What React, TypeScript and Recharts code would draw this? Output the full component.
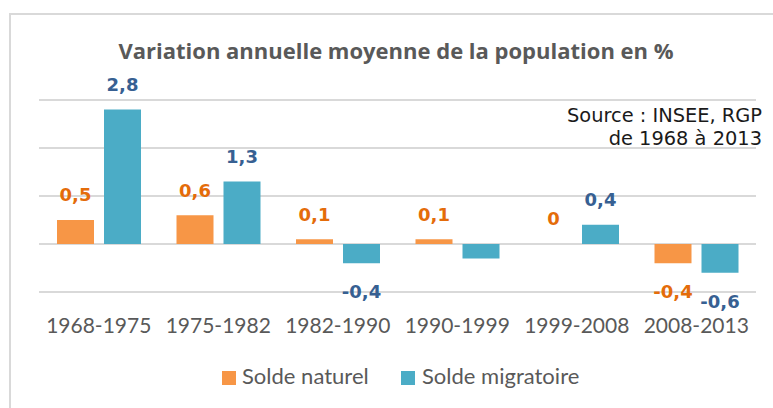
import React from "react";
import { BarChart, Bar, XAxis, YAxis, CartesianGrid, Legend, LabelList } from "recharts";

const categories = ["1968-1975", "1975-1982", "1982-1990", "1990-1999", "1999-2008", "2008-2013"];
const soldeNaturel = [0.5, 0.6, 0.1, 0.1, 0, -0.4];
const soldeMigratoire = [2.8, 1.3, -0.4, -0.3, 0.4, -0.6];
const naturelLabelShown = [true, true, true, true, true, true];
const migratoireLabelShown = [true, true, true, false, true, true];
const yTicks = [-1, 0, 1, 2, 3];
const seriesNames = ["Solde naturel", "Solde migratoire"];
const titleText = "Variation annuelle moyenne de la population en %";
const sourceLines = ["Source : INSEE, RGP", "de 1968 à 2013"];

const ORANGE = "#F79646";
const TEAL = "#4BACC6";
const ORANGE_LABEL = "#E46C0A";
const BLUE_LABEL = "#376092";
const GRID = "#D9D9D9";
const TEXT_GRAY = "#595959";

const data = categories.map((c, i) => ({
  period: c,
  naturel: soldeNaturel[i],
  migratoire: soldeMigratoire[i],
}));

const makeLabel = (color: string, shown: boolean[]) => (props: any) => {
  const vb = props.viewBox || {};
  const x = vb.x ?? props.x;
  const y = vb.y ?? props.y;
  const width = vb.width ?? props.width;
  const height = vb.height ?? props.height;
  const index = props.index;
  const value = props.value;
  if (index != null && shown[index] === false) return null;
  const top = Math.min(y, y + height);
  const bottom = Math.max(y, y + height);
  const cy = Number(value) >= 0 ? top - 25 : bottom + 28.5;
  return (
    <text
      x={x + width / 2}
      y={cy}
      dy="0.36em"
      textAnchor="middle"
      fill={color}
      fontFamily="DejaVu Sans"
      fontWeight="bold"
      fontSize={18}
    >
      {String(value).replace(".", ",")}
    </text>
  );
};

const renderLegend = () => {
  const items = [
    { name: seriesNames[0], color: ORANGE, sx: 222, tx: 242 },
    { name: seriesNames[1], color: TEAL, sx: 401, tx: 422 },
  ];
  return (
    <svg width={773} height={40} style={{ display: "block" }}>
      {items.map((it) => (
        <g key={it.name}>
          <rect x={it.sx} y={9} width={14} height={14} fill={it.color} />
          <text x={it.tx} y={22} fontFamily="Lato" fontSize={22} fill={TEXT_GRAY}>
            {it.name}
          </text>
        </g>
      ))}
    </svg>
  );
};

export default function App() {
  return (
    <div style={{ position: "absolute", left: 0, top: 0, width: 773, height: 408, background: "#fff", overflow: "hidden" }}>
      <div
        style={{
          position: "absolute",
          left: 9,
          top: 13,
          width: 800,
          height: 420,
          borderTop: `2px solid ${GRID}`,
          borderLeft: `2px solid ${GRID}`,
          boxSizing: "border-box",
        }}
      />
      <div style={{ position: "absolute", left: 0, top: 0 }}>
        <BarChart
          width={773}
          height={408}
          data={data}
          margin={{ top: 100, right: 17, left: 39, bottom: 86 }}
          barSize={37}
          barGap={10}
        >
          <CartesianGrid vertical={false} stroke={GRID} strokeWidth={2} />
          <YAxis hide domain={[-1, 3]} ticks={yTicks} />
          <XAxis
            dataKey="period"
            axisLine={false}
            tickLine={false}
            tickSize={0}
            tickMargin={26}
            interval={0}
            tick={{ fontSize: 21, fill: TEXT_GRAY, fontFamily: "Lato" }}
          />
          <Legend
            verticalAlign="middle"
            align="center"
            layout="horizontal"
            wrapperStyle={{ top: 362, left: 0, width: 773 }}
            content={renderLegend}
          />
          <Bar dataKey="naturel" name={seriesNames[0]} fill={ORANGE} minPointSize={0.01} isAnimationActive={false}>
            <LabelList dataKey="naturel" content={makeLabel(ORANGE_LABEL, naturelLabelShown)} />
          </Bar>
          <Bar dataKey="migratoire" name={seriesNames[1]} fill={TEAL} isAnimationActive={false}>
            <LabelList dataKey="migratoire" content={makeLabel(BLUE_LABEL, migratoireLabelShown)} />
          </Bar>
        </BarChart>
      </div>
      <svg width={773} height={408} style={{ position: "absolute", left: 0, top: 0, pointerEvents: "none" }}>
        <text
          x={396}
          y={58.5}
          textAnchor="middle"
          fontFamily="Open Sans"
          fontWeight="bold"
          fontSize={22}
          fill={TEXT_GRAY}
          style={{ fontVariantLigatures: "none" }}
        >
          {titleText}
        </text>
        <text x={762} y={121.5} textAnchor="end" fontFamily="DejaVu Sans" fontSize={19.4} fill="#1A1A1A">
          {sourceLines[0]}
        </text>
        <text x={762} y={145} textAnchor="end" fontFamily="DejaVu Sans" fontSize={19.4} fill="#1A1A1A">
          {sourceLines[1]}
        </text>
      </svg>
    </div>
  );
}
